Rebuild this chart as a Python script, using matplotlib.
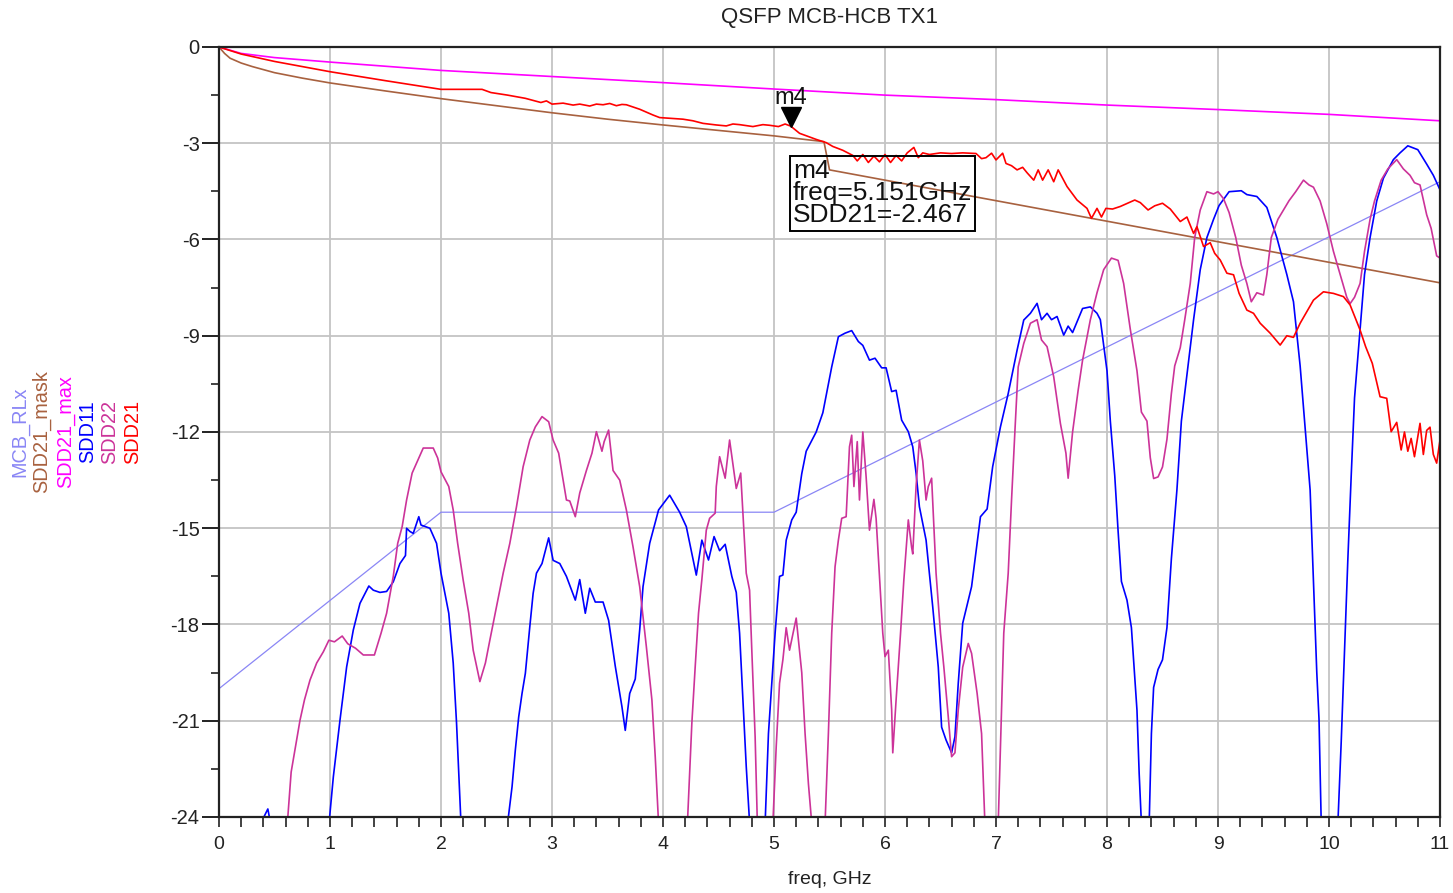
import numpy as np
import matplotlib.pyplot as plt
from matplotlib.ticker import MultipleLocator
import matplotlib.transforms as mtransforms

plt.rcParams['font.family'] = ['Liberation Sans', 'DejaVu Sans']
plt.rcParams['axes.unicode_minus'] = False

# ---- traces (freq in GHz, magnitude in dB) ----
sdd21_f = [0, 0.2, 0.5, 1.0, 1.5, 2.0, 2.37, 2.45, 2.6, 2.76, 2.9, 2.95, 3.0, 3.1, 3.19,
           3.25, 3.34, 3.4, 3.46, 3.52, 3.58, 3.63, 3.67, 3.79, 3.91, 3.97, 4.09, 4.18,
           4.27, 4.36, 4.48, 4.57, 4.63, 4.69, 4.81, 4.9, 4.96, 5.04, 5.1, 5.151, 5.23,
           5.38, 5.47, 5.53, 5.62, 5.71, 5.75, 5.8, 5.85, 5.9, 5.95, 6.0, 6.05, 6.1, 6.15,
           6.2, 6.26, 6.3, 6.34, 6.4, 6.5, 6.6, 6.7, 6.82, 6.87, 6.91, 6.96, 7.0, 7.06,
           7.09, 7.14, 7.19, 7.24, 7.28, 7.34, 7.38, 7.42, 7.47, 7.52, 7.56, 7.64, 7.73,
           7.82, 7.86, 7.91, 7.95, 7.99, 8.05, 8.12, 8.25, 8.3, 8.37, 8.43, 8.5, 8.57,
           8.66, 8.72, 8.78, 8.81, 8.87, 8.93, 8.97, 9.02, 9.08, 9.14, 9.19, 9.26, 9.32,
           9.38, 9.47, 9.56, 9.62, 9.68, 9.74, 9.86, 9.95, 10.04, 10.13, 10.19, 10.28,
           10.33, 10.39, 10.46, 10.52, 10.56, 10.61, 10.65, 10.68, 10.71, 10.74, 10.77,
           10.82, 10.85, 10.88, 10.91, 10.94, 10.97, 11.0]
sdd21_db = [0, -0.22, -0.45, -0.77, -1.05, -1.32, -1.32, -1.42, -1.5, -1.6, -1.73, -1.68,
            -1.78, -1.75, -1.81, -1.78, -1.84, -1.78, -1.8, -1.76, -1.83, -1.79, -1.8,
            -1.94, -2.12, -2.2, -2.23, -2.25, -2.3, -2.38, -2.43, -2.46, -2.4, -2.42,
            -2.48, -2.42, -2.44, -2.48, -2.4, -2.467, -2.69, -2.88, -2.98, -3.1, -3.22,
            -3.38, -3.55, -3.35, -3.6, -3.4, -3.58, -3.35, -3.6, -3.38, -3.55, -3.3,
            -3.13, -3.45, -3.3, -3.35, -3.3, -3.32, -3.3, -3.32, -3.48, -3.45, -3.31,
            -3.52, -3.31, -3.63, -3.7, -3.83, -3.75, -3.92, -4.15, -3.83, -4.15, -3.83,
            -4.2, -3.83, -4.35, -4.77, -5.03, -5.34, -5.03, -5.3, -5.03, -5.05, -4.97,
            -4.77, -4.85, -5.08, -4.95, -4.87, -5.05, -5.44, -5.3, -5.81, -5.6, -6.22,
            -6.1, -6.43, -6.64, -7.05, -7.1, -7.68, -8.2, -8.3, -8.61, -8.92, -9.29, -9.0,
            -9.05, -8.61, -7.89, -7.63, -7.68, -7.78, -8.04, -8.82, -9.34, -9.86, -10.9,
            -10.95, -11.99, -11.7, -12.56, -12.0, -12.6, -12.2, -12.77, -11.73, -12.7,
            -11.95, -11.85, -12.7, -12.97, -12.25]

sdd11_f = [0.0, 0.3, 0.39, 0.44, 0.47, 0.6, 0.85, 0.97, 1.03, 1.09, 1.15, 1.21, 1.27, 1.35,
           1.39, 1.45, 1.51, 1.57, 1.63, 1.68, 1.69, 1.72, 1.75, 1.8, 1.82, 1.9, 1.96, 2.0,
           2.07, 2.11, 2.14, 2.18, 2.25, 2.4, 2.55, 2.6, 2.64, 2.67, 2.7, 2.73, 2.76, 2.8,
           2.83, 2.86, 2.91, 2.97, 3.01, 3.07, 3.13, 3.21, 3.25, 3.3, 3.34, 3.39, 3.46,
           3.51, 3.57, 3.63, 3.66, 3.7, 3.75, 3.79, 3.82, 3.88, 3.96, 4.06, 4.15, 4.21,
           4.3, 4.35, 4.41, 4.46, 4.51, 4.56, 4.62, 4.66, 4.69, 4.72, 4.75, 4.78, 4.82,
           4.88, 4.92, 4.95, 5.01, 5.05, 5.08, 5.11, 5.16, 5.2, 5.25, 5.29, 5.38, 5.44,
           5.52, 5.58, 5.64, 5.7, 5.76, 5.8, 5.86, 5.91, 5.97, 6.01, 6.06, 6.1, 6.15, 6.21,
           6.25, 6.28, 6.31, 6.37, 6.43, 6.48, 6.51, 6.55, 6.6, 6.63, 6.66, 6.7, 6.78,
           6.86, 6.92, 6.97, 7.04, 7.11, 7.19, 7.25, 7.31, 7.37, 7.41, 7.46, 7.5, 7.55,
           7.61, 7.65, 7.69, 7.78, 7.85, 7.91, 7.94, 8.0, 8.03, 8.07, 8.1, 8.13, 8.18,
           8.22, 8.27, 8.29, 8.31, 8.35, 8.38, 8.4, 8.42, 8.46, 8.5, 8.54, 8.58, 8.63,
           8.67, 8.72, 8.78, 8.84, 8.9, 8.96, 9.01, 9.1, 9.21, 9.26, 9.35, 9.44, 9.53,
           9.62, 9.68, 9.74, 9.78, 9.83, 9.86, 9.89, 9.91, 9.93, 10.0, 10.06, 10.08,
           10.11, 10.14, 10.17, 10.2, 10.23, 10.28, 10.32, 10.37, 10.43, 10.49, 10.58,
           10.64, 10.71, 10.8, 10.88, 10.94, 11.0]
sdd11_db = [-32, -26.5, -24.1, -23.75, -24.3, -27, -27.5, -25, -22.75, -20.98, -19.32,
            -18.17, -17.34, -16.8, -16.93, -17.0, -16.97, -16.67, -16.1, -15.85, -15.0,
            -15.1, -15.16, -14.64, -14.9, -15.0, -15.47, -16.4, -17.65, -19.2, -21.07,
            -24.2, -27, -28, -26, -24.2, -23.06, -21.9, -20.88, -20.15, -19.52, -18.07,
            -17.03, -16.4, -16.1, -15.3, -16.0, -16.1, -16.5, -17.24, -16.6, -17.65,
            -16.87, -17.3, -17.3, -17.87, -19.3, -20.56, -21.3, -20.15, -19.7, -18.17,
            -16.82, -15.47, -14.43, -13.97, -14.5, -14.95, -16.46, -15.37, -15.99,
            -15.26, -15.7, -15.5, -16.5, -17.0, -18.27, -20.35, -22.43, -24.2, -26.5,
            -26.5, -24.2, -21.4, -18.27, -16.5, -16.46, -15.37, -14.74, -14.5, -13.3,
            -12.6, -12.0, -11.4, -9.97, -9.03, -8.92, -8.84, -9.18, -9.3, -9.76, -9.7,
            -10.0, -10.0, -10.74, -10.7, -11.63, -11.99, -12.46, -13.28, -14.33, -15.37,
            -17.45, -19.33, -21.2, -21.6, -22.0, -21.5, -19.83, -17.96, -16.82, -14.64,
            -14.4, -13.08, -11.84, -10.8, -9.45, -8.51, -8.3, -7.99, -8.5, -8.3, -8.5,
            -8.4, -8.98, -8.7, -8.9, -8.15, -8.1, -8.3, -8.5, -10.09, -11.66, -13.37,
            -15.09, -16.66, -17.24, -18.1, -20.67, -22.66, -24.2, -27, -24.2, -21.4,
            -19.96, -19.4, -19.1, -18.1, -15.95, -13.8, -11.66, -10.23, -8.5, -6.94,
            -5.94, -5.37, -4.94, -4.51, -4.48, -4.6, -4.66, -5.0, -5.94, -7.09, -7.94,
            -9.94, -11.66, -13.81, -16.67, -19.5, -20.95, -24.2, -28, -26, -24.2, -21.66,
            -18.8, -15.95, -13.37, -10.94, -8.79, -7.09, -5.94, -4.8, -4.09, -3.51, -3.3,
            -3.08, -3.2, -3.65, -4.0, -4.45]

sdd22_f = [0.0, 0.4, 0.6, 0.62, 0.65, 0.7, 0.73, 0.77, 0.82, 0.88, 0.94, 0.99, 1.04, 1.11,
           1.16, 1.23, 1.3, 1.4, 1.46, 1.51, 1.57, 1.61, 1.65, 1.69, 1.74, 1.78, 1.84,
           1.93, 1.97, 2.0, 2.07, 2.11, 2.15, 2.2, 2.25, 2.29, 2.35, 2.4, 2.44, 2.5, 2.56,
           2.62, 2.68, 2.74, 2.8, 2.85, 2.91, 2.97, 3.01, 3.06, 3.1, 3.13, 3.16, 3.21,
           3.25, 3.31, 3.36, 3.4, 3.45, 3.47, 3.51, 3.55, 3.61, 3.67, 3.73, 3.79, 3.85,
           3.9, 3.93, 3.96, 4.05, 4.18, 4.22, 4.26, 4.29, 4.32, 4.35, 4.39, 4.42, 4.47,
           4.48, 4.51, 4.56, 4.6, 4.66, 4.7, 4.72, 4.75, 4.78, 4.8, 4.83, 4.85, 4.92,
           4.99, 5.02, 5.05, 5.08, 5.11, 5.14, 5.17, 5.2, 5.25, 5.28, 5.31, 5.34, 5.4,
           5.46, 5.49, 5.52, 5.55, 5.58, 5.61, 5.65, 5.68, 5.7, 5.72, 5.75, 5.77, 5.8,
           5.83, 5.86, 5.9, 5.92, 5.95, 5.98, 6.0, 6.03, 6.06, 6.07, 6.1, 6.14, 6.17,
           6.21, 6.24, 6.25, 6.28, 6.31, 6.34, 6.37, 6.39, 6.42, 6.44, 6.46, 6.5, 6.53,
           6.57, 6.6, 6.63, 6.66, 6.7, 6.75, 6.78, 6.83, 6.87, 6.9, 6.96, 7.02, 7.04,
           7.07, 7.11, 7.14, 7.17, 7.2, 7.25, 7.31, 7.37, 7.41, 7.46, 7.52, 7.58, 7.63,
           7.65, 7.69, 7.74, 7.78, 7.85, 7.91, 7.97, 8.04, 8.1, 8.15, 8.21, 8.27, 8.31,
           8.36, 8.39, 8.42, 8.46, 8.5, 8.54, 8.58, 8.61, 8.66, 8.7, 8.75, 8.79, 8.84,
           8.9, 8.96, 9.0, 9.05, 9.1, 9.16, 9.21, 9.26, 9.3, 9.35, 9.41, 9.44, 9.48,
           9.54, 9.59, 9.64, 9.7, 9.77, 9.82, 9.86, 9.92, 9.98, 10.04, 10.1, 10.16,
           10.19, 10.23, 10.28, 10.32, 10.37, 10.41, 10.47, 10.53, 10.61, 10.67, 10.73,
           10.77, 10.82, 10.88, 10.92, 10.97, 11.0]
sdd22_db = [-32, -28, -24.5, -24.0, -22.6, -21.6, -20.98, -20.35, -19.73, -19.2, -18.85,
            -18.49, -18.54, -18.36, -18.6, -18.74, -18.95, -18.95, -18.27, -17.65, -16.5,
            -15.47, -14.95, -14.12, -13.28, -12.97, -12.5, -12.5, -12.81, -13.24, -13.7,
            -14.43, -15.47, -16.62, -17.65, -18.8, -19.78, -19.2, -18.49, -17.45, -16.4,
            -15.47, -14.33, -13.08, -12.25, -11.84, -11.52, -11.68, -12.25, -12.66,
            -13.5, -14.12, -14.15, -14.64, -13.9, -13.2, -12.66, -11.99, -12.6, -12.3,
            -11.94, -13.2, -13.5, -14.43, -15.58, -16.82, -18.69, -20.35, -22.12, -24.2,
            -28, -26, -24.2, -21.07, -19.32, -17.65, -16.6, -15.06, -14.69, -14.53,
            -13.7, -12.77, -13.44, -12.25, -13.76, -13.28, -14.53, -16.4, -16.93, -18.8,
            -21.5, -24.2, -27, -24.2, -21.8, -19.83, -19.1, -18.1, -18.8, -18.3, -17.8,
            -19.5, -21.4, -22.96, -24.2, -27, -24.2, -21.4, -18.27, -16.2, -15.37, -14.69,
            -14.64, -12.46, -12.1, -13.7, -12.3, -14.12, -12.0, -13.4, -15.06, -14.1,
            -14.7, -16.5, -18.27, -19.0, -18.8, -20.66, -22.0, -20.35, -18.27, -16.6,
            -14.74, -15.6, -15.8, -13.7, -12.25, -12.9, -14.12, -13.7, -13.44, -14.95,
            -16.4, -18.27, -19.32, -20.88, -22.12, -22.0, -20.66, -19.33, -18.59, -18.9,
            -20.15, -21.4, -24.2, -27, -24.2, -21.8, -18.27, -16.4, -14.12, -12.0, -9.97,
            -9.24, -8.61, -8.5, -9.13, -9.34, -10.28, -11.73, -12.66, -13.44, -12.0,
            -10.7, -9.76, -8.5, -7.66, -6.94, -6.58, -6.65, -7.37, -8.8, -10.09, -11.38,
            -11.66, -12.8, -13.45, -13.4, -13.09, -12.23, -10.8, -9.94, -9.37, -8.51,
            -7.37, -5.94, -5.08, -4.51, -4.58, -4.51, -4.73, -5.16, -5.94, -6.8, -7.37,
            -7.94, -7.66, -7.73, -7.09, -5.94, -5.37, -5.08, -4.79, -4.51, -4.15, -4.3,
            -4.37, -4.8, -5.51, -6.37, -7.09, -7.8, -8.0, -7.8, -7.37, -6.37, -5.37,
            -4.8, -4.15, -3.8, -3.51, -3.8, -4.0, -4.23, -4.3, -5.23, -5.65, -6.51, -6.58]

mask_f = [0, 0.05, 0.1, 0.2, 0.3, 0.5, 0.75, 1, 1.5, 2, 2.5, 3, 3.5, 4, 4.5, 5, 5.45, 5.5, 11]
mask_db = [0, -0.2, -0.35, -0.5, -0.61, -0.8, -0.97, -1.12, -1.37, -1.61, -1.83, -2.05,
           -2.25, -2.43, -2.6, -2.77, -2.95, -3.83, -7.35]

max_f = [0, 0.2, 0.5, 1, 2, 3, 4, 5, 6, 7, 8, 9, 10, 11]
max_db = [0, -0.2, -0.33, -0.47, -0.73, -0.92, -1.11, -1.31, -1.5, -1.64, -1.81, -1.95,
          -2.1, -2.3]

rlx_f = [0, 2, 5, 11]
rlx_db = [-20, -14.5, -14.5, -4.2]

m4_freq = 5.151
m4_val = -2.467

c_rlx = '#8A86F5'
c_mask = '#A8613F'
c_max = '#FF00FF'
c_sdd11 = '#0000FF'
c_sdd22 = '#CC3399'
c_sdd21 = '#FF0000'

W, H = 1453, 893
fig = plt.figure(figsize=(W / 100, H / 100), dpi=100)
ax = fig.add_axes([219 / W, 1 - 817 / H, (1440 - 219) / W, (817 - 47) / H])

ax.plot(rlx_f, rlx_db, color=c_rlx, lw=0.9)
ax.plot(mask_f, mask_db, color=c_mask, lw=1.2)
ax.plot(max_f, max_db, color=c_max, lw=1.2)
ax.plot(sdd11_f, sdd11_db, color=c_sdd11, lw=1.2)
ax.plot(sdd22_f, sdd22_db, color=c_sdd22, lw=1.2)
ax.plot(sdd21_f, sdd21_db, color=c_sdd21, lw=1.2)

ax.set_xlim(0, 11)
ax.set_ylim(-24, 0)
ax.xaxis.set_major_locator(MultipleLocator(1))
ax.xaxis.set_minor_locator(MultipleLocator(0.2))
ax.yaxis.set_major_locator(MultipleLocator(3))
ax.yaxis.set_minor_locator(MultipleLocator(1.5))
ax.grid(True, which='major', color='#C4C4C4', lw=1.3)
ax.set_axisbelow(True)
for s in ax.spines.values():
    s.set_color('#222222')
    s.set_linewidth(1.6)
ax.tick_params(axis='y', which='major', direction='out', length=12, width=1.4,
               labelsize=14.5, pad=2, colors='#222222')
ax.tick_params(axis='y', which='minor', direction='out', length=6, width=1.2,
               colors='#222222')
ax.tick_params(axis='x', which='both', direction='out', length=7, width=1.2,
               labelsize=14, pad=7, colors='#222222')

# marker m4 on SDD21
tri = mtransforms.offset_copy(ax.transData, fig=fig, x=0, y=9, units='dots')
ax.plot(m4_freq, m4_val, marker='v', ms=15, color='black', transform=tri,
        clip_on=False)
ax.annotate('m4', xy=(m4_freq, m4_val), xytext=(0, 16), textcoords='offset points',
            ha='center', va='baseline', fontsize=17, color='#111111')
ax.text(5.17, -3.5, 'm4\nfreq=%.3fGHz\nSDD21=%.3f' % (m4_freq, m4_val),
        ha='left', va='top', fontsize=19, linespacing=0.9, color='#111111',
        bbox=dict(boxstyle='square,pad=0.12', fc='none', ec='black', lw=1.4))

# titles
fig.text(829.5 / W, 1 - 18 / H, 'QSFP MCB-HCB TX1', ha='center', va='center',
         fontsize=16, color='#222222')
fig.text(829.5 / W, 1 - 880 / H, 'freq, GHz', ha='center', va='center',
         fontsize=14, color='#222222')

# stacked vertical trace names on the left
names = ['MCB_RLx', 'SDD21_mask', 'SDD21_max', 'SDD11', 'SDD22', 'SDD21']
colors = [c_rlx, c_mask, c_max, c_sdd11, c_sdd22, c_sdd21]
xs = [20, 42, 66, 88, 110, 133]
for name, col, x in zip(names, colors, xs):
    fig.text(x / W, 1 - 432 / H, name, rotation=90, ha='center', va='center',
             fontsize=14.3, color=col)

fig.savefig('out.png', dpi=100, facecolor='white')
